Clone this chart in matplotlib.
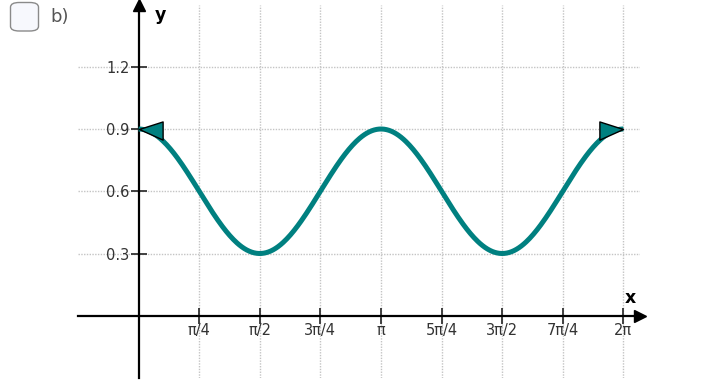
import numpy as np
import matplotlib
matplotlib.use("Agg")
import matplotlib.pyplot as plt
from matplotlib.path import Path
from matplotlib.patches import FancyBboxPatch

# ---- data ----
x_tick_vals = [np.pi/4, np.pi/2, 3*np.pi/4, np.pi, 5*np.pi/4, 3*np.pi/2, 7*np.pi/4, 2*np.pi]
x_tick_labels = ["π/4", "π/2", "3π/4", "π", "5π/4", "3π/2", "7π/4", "2π"]
y_tick_vals = [0.3, 0.6, 0.9, 1.2]
y_tick_labels = ["0.3", "0.6", "0.9", "1.2"]
curve_x = np.linspace(0, 2*np.pi, 400)
curve_y = 0.6 + 0.3*np.cos(2*curve_x)

W, H = 728, 390
fig = plt.figure(figsize=(W/100, H/100), dpi=100)
# axes placement in pixels
L, R, T, B = 78, 640, 4.5, 378
ax = fig.add_axes([L/W, (H-B)/H, (R-L)/W, (B-T)/H])
ax.set_xlim(-np.pi/4, -np.pi/4 + (R-L)/60.6*np.pi/4)
ax.set_ylim(-0.3, 1.5)

for s in ["top", "right"]:
    ax.spines[s].set_visible(False)
ax.spines["left"].set_position(("data", 0))
ax.spines["bottom"].set_position(("data", 0))
for s in ["left", "bottom"]:
    ax.spines[s].set_linewidth(1.6)
    ax.spines[s].set_color("black")
    ax.spines[s].set_zorder(3)

ax.set_xticks(x_tick_vals)
ax.set_xticklabels(x_tick_labels)
ax.set_yticks(y_tick_vals)
ax.set_yticklabels(y_tick_labels)
ax.tick_params(axis="both", direction="inout", length=11, width=1.3, color="#333333",
               labelsize=10.5, labelcolor="#333333")
ax.tick_params(axis="x", pad=0)
ax.tick_params(axis="y", pad=1)

# grid
for xv in x_tick_vals:
    ax.axvline(xv, color="#c4c4c4", lw=1, ls=(0, (1, 1)), zorder=0)
for yv in y_tick_vals:
    ax.axhline(yv, color="#c4c4c4", lw=1, ls=(0, (1, 1)), zorder=0)

# curve
ax.plot(curve_x, curve_y, color="#008080", lw=3.6, solid_capstyle="butt", zorder=4)

# end arrowheads (tip at the end points)
left_tri = Path([(0, 0), (1, 0.32), (1, -0.45), (0, 0)], [Path.MOVETO, Path.LINETO, Path.LINETO, Path.CLOSEPOLY])
right_tri = Path([(0, 0), (-1, 0.32), (-1, -0.45), (0, 0)], [Path.MOVETO, Path.LINETO, Path.LINETO, Path.CLOSEPOLY])
ax.plot([curve_x[0]], [curve_y[0]], marker=left_tri, ms=34, mfc="#008080", mec="black", mew=1, zorder=5)
ax.plot([curve_x[-1]], [curve_y[-1]], marker=right_tri, ms=34, mfc="#008080", mec="black", mew=1, zorder=5)

# axis arrowheads
ax.plot([0], [1.0], marker="^", ms=8, color="black", transform=ax.get_xaxis_transform(), clip_on=False, zorder=6)
ax.plot([1.0], [0], marker=">", ms=8, color="black", transform=ax.get_yaxis_transform(), clip_on=False, zorder=6)

# axis letters
ax.text(160/W, (H-15)/H, "y", transform=fig.transFigure, fontsize=12.5, fontweight="bold",
        ha="center", va="center", color="black")
ax.text(630/W, (H-298)/H, "x", transform=fig.transFigure, fontsize=12.5, fontweight="bold",
        ha="center", va="center", color="black")

# checkbox + label
box = FancyBboxPatch((10.5/W, (H-31)/H), 28/W, 28.5/H, boxstyle="round,pad=0,rounding_size=0.012",
                     transform=fig.transFigure, facecolor="#f7f8fd", edgecolor="#8a8a8a", lw=1.0)
fig.patches.append(box)
fig.text(50/W, (H-17)/H, "b)", fontsize=13, color="#555555", ha="left", va="center")

fig.savefig("out.png", dpi=100)
